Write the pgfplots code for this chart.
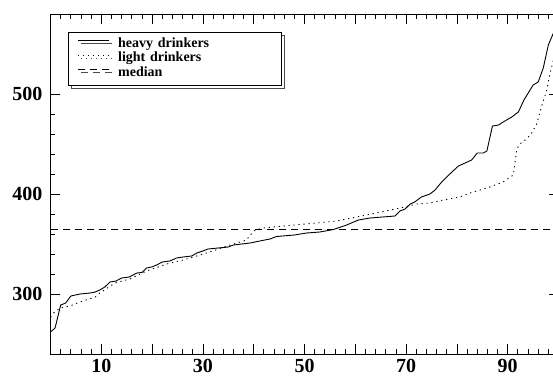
\documentclass[border=0pt]{standalone}
\usepackage{fontspec}
\setmainfont{Liberation Serif}
\usepackage{pgfplots}
\pgfplotsset{compat=1.18}
\usetikzlibrary{shadows}

\begin{document}
\begin{tikzpicture}
\begin{axis}[
  at={(50.5pt,22pt)}, anchor=south west,
  scale only axis, width=508pt, height=340pt,
  xmin=0, xmax=100, ymin=240, ymax=580,
  xtick={0,10,...,100}, xticklabels={,10,,30,,50,,70,,90,},
  ytick={300,400,500},
  minor x tick num=4, minor y tick num=4,
  tick align=inside,
  major tick length=10pt, minor tick length=5pt,
  axis line style={line width=0.9pt},
  every tick/.style={black, line width=0.8pt},
  tick label style={font=\fontsize{20}{21}\selectfont\bfseries},
  /pgf/number format/assume math mode=true,
  xticklabel style={inner sep=0pt, anchor=north, yshift=-5pt},
  yticklabel style={inner sep=0pt, anchor=east, xshift=-8pt},
  legend style={
    at={(0.0344,0.947)}, anchor=north west,
    draw=black, line width=0.8pt, fill=white,
    inner xsep=9pt, inner ysep=4.5pt,
    column sep=9pt,
    font=\fontsize{14}{14}\selectfont\bfseries,
    nodes={inner sep=0pt, text height=10.5pt, text depth=4pt, text width=154pt},
    drop shadow={shadow xshift=3pt, shadow yshift=-3pt, fill=white, draw=black!70, opacity=1},
  },
  legend cell align=left,
  legend image code/.code={\draw[#1, line width=0.8pt] (0pt,3.5pt) -- (31pt,3.5pt);},
]
\addplot[black, line width=0.9pt] coordinates {
(0,262) (0.9,266) (2,289) (3,291) (4,298) (5.8,300) (7.8,301) (8.8,302)
(9.7,304) (10.7,307) (11.7,312) (12.9,313) (14,316) (15.5,317) (17,321)
(18,321.5) (18.9,326) (19.9,327) (20.9,329) (22,332) (23.5,333) (24.8,336)
(26.1,337) (27.8,338) (28.8,341) (30,343) (31,345) (32,345.5) (35,347)
(36,349) (39.3,351) (41.2,353) (43.2,355) (44.5,357.5) (48,359) (50.4,361)
(53,362) (55.7,364.5) (58.3,369) (60.6,374) (62.9,376) (67.8,378) (68.8,383)
(69.8,385) (70.8,390) (71.7,392) (73,397) (74.7,400) (75.7,404) (77,412)
(78.6,420) (80.3,428) (81.6,431) (82.9,434) (84,441) (85.2,441) (85.9,443)
(87,468) (88.2,469) (89.1,472) (90.8,477) (92.1,482) (93.2,494) (95,509)
(96,512) (97,526) (98,549) (99,561) (100,570)
};
\addlegendentry{heavy drinkers}
\addplot[black, line width=0.9pt, dash pattern=on 1.2pt off 3.8pt] coordinates {
(0,277) (0.6,281) (1.9,286) (3.8,288) (5.8,292) (8.8,297) (9.7,301)
(12.7,311) (15.6,315) (18.9,323) (22.9,330) (26.8,335) (30.7,341) (36,350)
(38.6,354) (39.3,359) (40.3,364) (42,366) (45.8,368) (52.4,371) (56.3,373)
(60.3,377) (65,382) (68.8,386) (72.1,390) (74.7,391) (77.3,394) (80.6,397)
(82.6,401) (86.5,407) (89.1,412) (91.1,419) (91.8,445) (92.4,450) (93.7,455)
(94.6,460) (95.7,470) (96.7,488) (97.7,504) (98.3,520) (99,534) (100,545)
};
\addlegendentry{light drinkers}
\addplot[black, line width=0.9pt, dash pattern=on 7pt off 5pt] coordinates {
(0,365) (100,365)
};
\addlegendentry{median}
\end{axis}
\pgfresetboundingbox
\useasboundingbox (0,0) rectangle (553pt,376pt);
\end{tikzpicture}
\end{document}
